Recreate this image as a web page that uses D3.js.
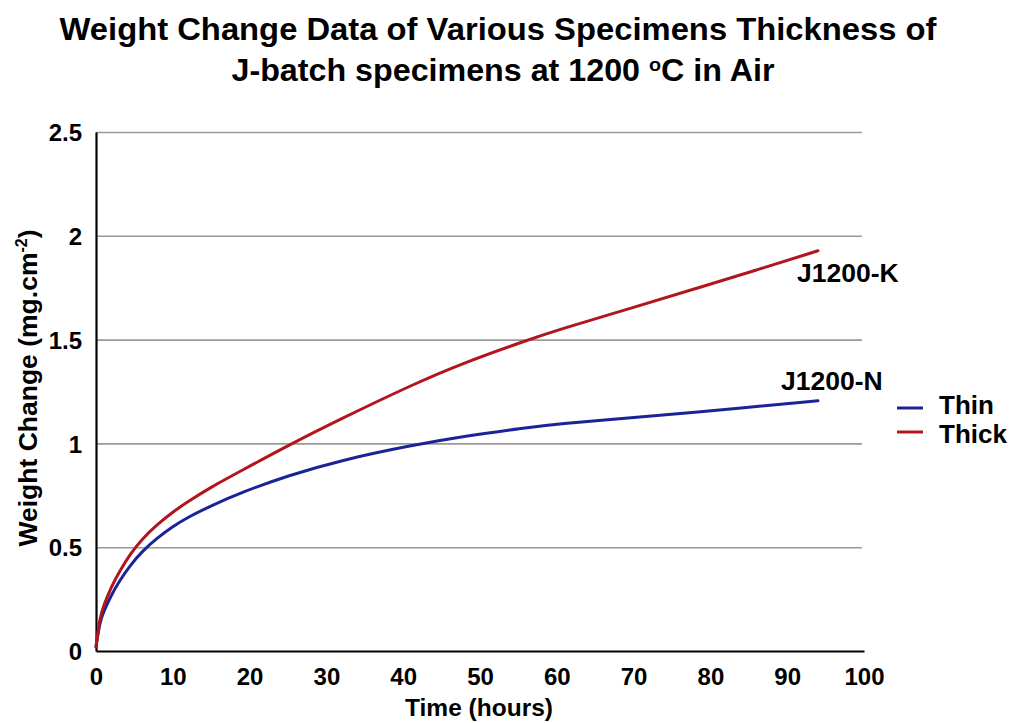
<!DOCTYPE html>
<html>
<head>
<meta charset="utf-8">
<script src="https://cdn.jsdelivr.net/npm/d3@7"></script>
<style>
  body { margin: 0; background: #fff; }
  text { font-family: "Liberation Sans", Arial, sans-serif; font-weight: bold; fill: #000; }
</style>
</head>
<body>
<div id="vis-container"></div>
<script>
// data
var thinHours  = [0, 0.5, 1, 2, 3, 4.5, 6, 8, 10, 12, 15, 19, 25, 32, 41, 48, 56, 60, 70, 78, 86, 94];
var thinValues = [0.02, 0.14, 0.19, 0.27, 0.335, 0.415, 0.48, 0.545, 0.60, 0.645, 0.70, 0.765, 0.845, 0.92, 0.99, 1.035, 1.075, 1.093, 1.125, 1.15, 1.178, 1.205];
var thickHours  = [0, 0.5, 1, 2, 3, 4.5, 6, 8, 10, 12, 15, 19, 25, 32, 41, 48, 56, 60, 70, 78, 86, 94];
var thickValues = [0.02, 0.16, 0.22, 0.31, 0.38, 0.47, 0.54, 0.61, 0.67, 0.72, 0.79, 0.87, 0.99, 1.12, 1.28, 1.39, 1.495, 1.545, 1.655, 1.745, 1.835, 1.928];
var xTicks = [0, 10, 20, 30, 40, 50, 60, 70, 80, 90, 100];
var yTicks = [0, 0.5, 1, 1.5, 2, 2.5];
var seriesNames = ["Thin", "Thick"];
var seriesColors = ["#1a2496", "#b0161c"];
var seriesLabels = ["J1200-N", "J1200-K"];

var W = 1013, H = 723;
var margin = { top: 132, right: 149, bottom: 72, left: 96 };
var width  = W - margin.left - margin.right;
var height = H - margin.top - margin.bottom;

var svg = d3.select("#vis-container")
  .append("svg")
    .attr("width", W)
    .attr("height", H);

var canvas = svg.append("g")
    .attr("transform", "translate(" + margin.left + "," + margin.top + ")");

var xScale = d3.scaleLinear().domain([0, 100]).range([0, width]);
var yScale = d3.scaleLinear().domain([0, 2.5]).range([height, 0]);

// gridlines
canvas.append("g")
    .attr("class", "grid")
    .call(d3.axisLeft(yScale).tickValues(yTicks.slice(1)).tickSize(-width + 2).tickFormat(""))
    .call(g => g.select(".domain").remove())
    .selectAll("line")
      .attr("stroke", "#9a9a94")
      .attr("stroke-width", 1.6);

// y axis
var yAxis = canvas.append("g")
    .call(d3.axisLeft(yScale).tickValues(yTicks).tickSize(0).tickPadding(14).tickFormat(d3.format("")));
yAxis.select(".domain").attr("stroke", "#000").attr("stroke-width", 2.2);
yAxis.selectAll("text").style("font-size", "24px").attr("dy", "0.36em");

// x axis
var xAxis = canvas.append("g")
    .attr("transform", "translate(0," + height + ")")
    .call(d3.axisBottom(xScale).tickValues(xTicks).tickSize(0).tickPadding(17));
xAxis.select(".domain").attr("stroke", "#000").attr("stroke-width", 2.2);
xAxis.selectAll("text").style("font-size", "24px").attr("dy", "0.71em");

// lines
var line = d3.line()
    .x(d => xScale(d[0]))
    .y(d => yScale(d[1]))
    .curve(d3.curveBasis);

var series = [
  d3.zip(thinHours, thinValues),
  d3.zip(thickHours, thickValues)
];

canvas.selectAll(".series")
  .data(series)
  .enter().append("path")
    .attr("class", "series")
    .attr("fill", "none")
    .attr("stroke", (d, i) => seriesColors[i])
    .attr("stroke-width", 3)
    .attr("stroke-linecap", "round")
    .attr("d", line);

// end labels
svg.append("text")
    .attr("x", 797).attr("y", 282)
    .style("font-size", "26.5px")
    .text(seriesLabels[1]);
svg.append("text")
    .attr("x", 781).attr("y", 390)
    .style("font-size", "26.5px")
    .text(seriesLabels[0]);

// legend
var legend = svg.append("g").attr("transform", "translate(897,408)");
legend.selectAll("line")
  .data(seriesNames)
  .enter().append("line")
    .attr("x1", 0).attr("x2", 26)
    .attr("y1", (d, i) => i * 24).attr("y2", (d, i) => i * 24)
    .attr("stroke", (d, i) => seriesColors[i])
    .attr("stroke-width", 3);
legend.selectAll("text")
  .data(seriesNames)
  .enter().append("text")
    .attr("x", 42).attr("y", (d, i) => 6 + i * 29)
    .style("font-size", "26px")
    .text(d => d);

// axis titles
svg.append("text")
    .attr("text-anchor", "middle")
    .attr("x", 479)
    .attr("y", 716)
    .style("font-size", "24.5px")
    .text("Time (hours)");

var yTitle = svg.append("text")
    .attr("text-anchor", "middle")
    .attr("transform", "translate(37,388) rotate(-90)")
    .style("font-size", "26.5px");
yTitle.append("tspan").text("Weight Change (mg.cm");
yTitle.append("tspan").attr("dy", -10).style("font-size", "16px").text("-2");
yTitle.append("tspan").attr("dy", 10).text(")");

// title
svg.append("text")
    .attr("text-anchor", "middle")
    .attr("x", 498).attr("y", 40)
    .attr("textLength", 877)
    .attr("lengthAdjust", "spacingAndGlyphs")
    .style("font-size", "31px")
    .text("Weight Change Data of Various Specimens Thickness of");
var t2 = svg.append("text")
    .attr("text-anchor", "middle")
    .attr("x", 503).attr("y", 81)
    .attr("textLength", 543)
    .attr("lengthAdjust", "spacingAndGlyphs")
    .style("font-size", "31px");
t2.append("tspan").text("J-batch specimens at 1200 ");
t2.append("tspan").attr("dy", -10).style("font-size", "19px").text("o");
t2.append("tspan").attr("dy", 10).text("C in Air");
</script>
</body>
</html>
